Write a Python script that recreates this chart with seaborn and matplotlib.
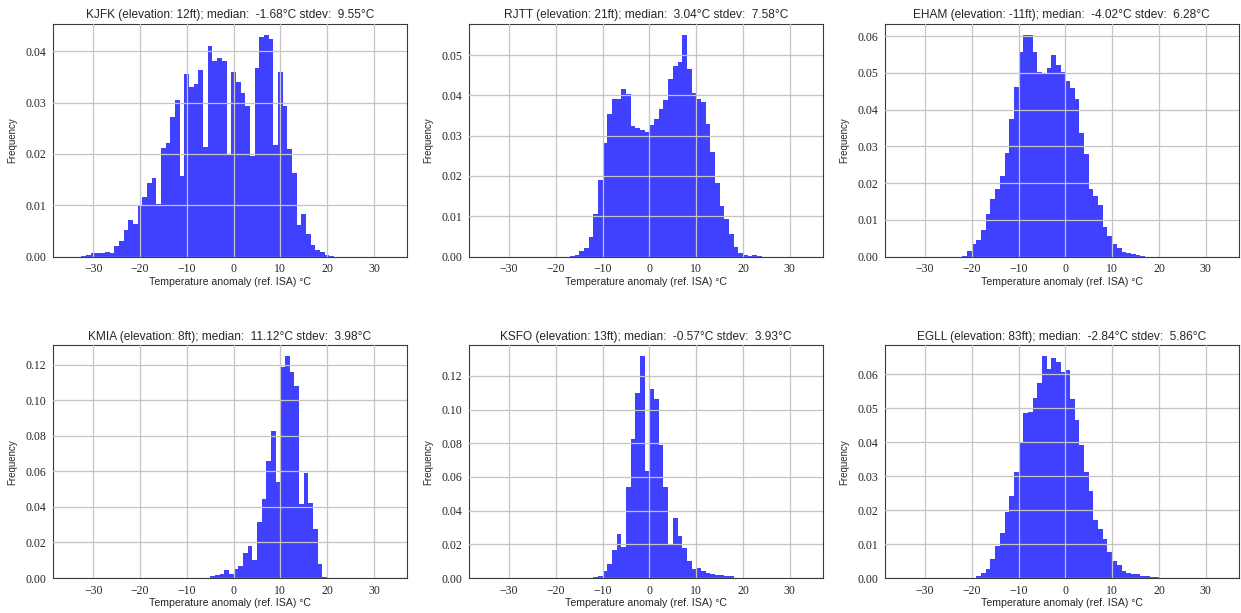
import numpy as np
import pandas as pd
import matplotlib
matplotlib.use("Agg")
import matplotlib.pyplot as plt
import seaborn as sns

# Station metadata
stations = ["KJFK", "RJTT", "EHAM", "KMIA", "KSFO", "EGLL"]
elevations_ft = [12, 21, -11, 8, 13, 83]
medians = [-1.68, 3.04, -4.02, 11.12, -0.57, -2.84]
stdevs = [9.55, 7.58, 6.28, 3.98, 3.93, 5.86]

# Left edge of the first 1 °C bin for each station
first_edge = [-32.5, -17.0, -22.0, -5.0, -12.0, -19.0]

# Normalised frequency per 1 °C bin
kjfk_freq = [0.0002, 0.0003, 0.0006, 0.0006, 0.0006, 0.0008, 0.0007, 0.0021, 0.0030,
             0.0051, 0.0072, 0.0064, 0.0098, 0.0116, 0.0144, 0.0153, 0.0103, 0.0212,
             0.0221, 0.0272, 0.0305, 0.0158, 0.0355, 0.0331, 0.0337, 0.0363, 0.0213,
             0.0411, 0.0382, 0.0388, 0.0382, 0.0200, 0.0360, 0.0341, 0.0318, 0.0294,
             0.0197, 0.0367, 0.0428, 0.0432, 0.0425, 0.0218, 0.0360, 0.0294, 0.0210,
             0.0163, 0.0062, 0.0083, 0.0044, 0.0022, 0.0013, 0.0008, 0.0003, 0.0002]
rjtt_freq = [0.0001, 0.0005, 0.0013, 0.0020, 0.0049, 0.0106, 0.0189, 0.0283, 0.0355,
             0.0390, 0.0392, 0.0416, 0.0403, 0.0325, 0.0318, 0.0314, 0.0310, 0.0327,
             0.0341, 0.0366, 0.0388, 0.0440, 0.0474, 0.0482, 0.0550, 0.0465, 0.0407,
             0.0390, 0.0383, 0.0329, 0.0259, 0.0182, 0.0126, 0.0093, 0.0056, 0.0023,
             0.0009, 0.0004, 0.0002, 0.0003, 0.0001]
eham_freq = [0.0002, 0.0016, 0.0033, 0.0044, 0.0071, 0.0115, 0.0157, 0.0185, 0.0218,
             0.0283, 0.0373, 0.0462, 0.0557, 0.0603, 0.0603, 0.0557, 0.0503, 0.0500,
             0.0512, 0.0548, 0.0520, 0.0503, 0.0477, 0.0458, 0.0428, 0.0335, 0.0278,
             0.0185, 0.0166, 0.0140, 0.0080, 0.0057, 0.0035, 0.0022, 0.0012, 0.0009,
             0.0006, 0.0004, 0.0002]
kmia_freq = [0.0010, 0.0015, 0.0020, 0.0043, 0.0024, 0.0052, 0.0066, 0.0142, 0.0178,
             0.0100, 0.0315, 0.0446, 0.0655, 0.0826, 0.0540, 0.1185, 0.1245, 0.1160,
             0.1082, 0.0418, 0.0590, 0.0420, 0.0277, 0.0077, 0.0006]
ksfo_freq = [0.0009, 0.0013, 0.0040, 0.0083, 0.0168, 0.0262, 0.0183, 0.0540, 0.0825,
             0.1100, 0.1315, 0.0635, 0.1125, 0.1060, 0.0792, 0.0540, 0.0205, 0.0355,
             0.0250, 0.0177, 0.0099, 0.0054, 0.0060, 0.0040, 0.0031, 0.0023, 0.0016,
             0.0019, 0.0014, 0.0010]
egll_freq = [0.0005, 0.0016, 0.0027, 0.0057, 0.0093, 0.0132, 0.0193, 0.0242, 0.0313,
             0.0396, 0.0486, 0.0490, 0.0530, 0.0575, 0.0652, 0.0615, 0.0648, 0.0635,
             0.0606, 0.0613, 0.0528, 0.0466, 0.0393, 0.0312, 0.0255, 0.0171, 0.0144,
             0.0115, 0.0076, 0.0051, 0.0037, 0.0020, 0.0015, 0.0013, 0.0011, 0.0007,
             0.0005, 0.0003, 0.0003]

frequencies = [kjfk_freq, rjtt_freq, eham_freq, kmia_freq, ksfo_freq, egll_freq]

x_ticks = [-30, -20, -10, 0, 10, 20, 30]

sns.set_style("whitegrid", {
    "axes.edgecolor": "#3a3a3a",
    "grid.color": "#c4c4c4",
    "axes.linewidth": 1.0,
})
plt.rcParams["font.family"] = ["Liberation Sans", "DejaVu Sans"]

fig, axes = plt.subplots(2, 3, figsize=(12.41, 6.13), dpi=100)
fig.subplots_adjust(left=0.043, right=0.998, top=0.961, bottom=0.057,
                    wspace=0.177, hspace=0.382)

for ax, name, elev, med, sd, start, freq in zip(axes.flat, stations, elevations_ft,
                                                  medians, stdevs, first_edge, frequencies):
    n_bins = len(freq)
    table = pd.DataFrame({"anomaly": start + 0.5 + np.arange(n_bins), "freq": freq})
    sns.histplot(data=table, x="anomaly", weights="freq", binwidth=1.0,
                 binrange=(start, start + n_bins), stat="count",
                 color="blue", alpha=0.75, linewidth=0, ax=ax)
    ax.set_axisbelow(False)
    ax.grid(True, color="#c4c4c4", linewidth=0.9)
    ax.set_xlim(-38.5, 37)
    ax.set_xticks(x_ticks)
    ax.set_title(f"{name} (elevation: {elev}ft); median:  {med:.2f}°C stdev:  {sd:.2f}°C",
                 fontsize=8.6, pad=4)
    ax.set_xlabel("Temperature anomaly (ref. ISA) °C", fontsize=7.6, labelpad=1)
    ax.set_ylabel("Frequency", fontsize=7, labelpad=6)
    ax.tick_params(axis="both", length=0, pad=5, labelsize=8.5)
    for lbl in ax.get_xticklabels() + ax.get_yticklabels():
        lbl.set_family(["Liberation Serif", "DejaVu Serif"])
    ax.yaxis.set_major_formatter(matplotlib.ticker.FormatStrFormatter("%.2f"))

fig.savefig("out.png", dpi=100)
